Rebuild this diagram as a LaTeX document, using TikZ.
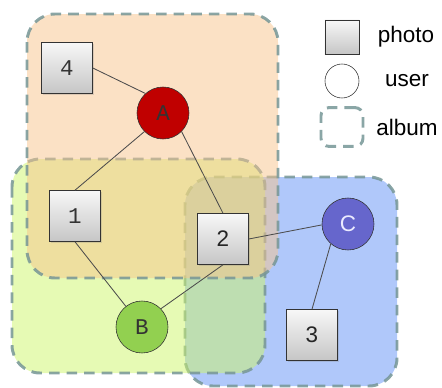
\documentclass[tikz,border=0pt]{standalone}
\usepackage{fontspec}
\setmainfont{Liberation Sans}
\newfontfamily\courfont{Liberation Mono}
\usetikzlibrary{shadows}

\definecolor{albumorange}{RGB}{248,196,140}
\definecolor{albumyellow}{RGB}{205,245,105}
\definecolor{albumblue}{RGB}{97,145,245}
\definecolor{albumedge}{RGB}{118,150,150}
\definecolor{userred}{RGB}{192,0,0}
\definecolor{usergreen}{RGB}{146,208,80}
\definecolor{userblue}{RGB}{102,102,204}

\begin{document}
\begin{tikzpicture}[
    x=0.025cm, y=-0.025cm,
    photo/.style={draw=black!80, rectangle, minimum size=1.275cm, inner sep=0pt,
      top color=gray!6, bottom color=gray!45,
      drop shadow={shadow xshift=1pt, shadow yshift=-1pt, opacity=0.25}},
    user/.style={draw=black!80, circle, minimum size=1.3cm, inner sep=0pt},
    album/.style={draw=albumedge, line width=2.1pt, dash pattern=on 7.5pt off 5pt,
      rounded corners=0.7cm, fill opacity=0.5, draw opacity=0.85},
    link/.style={draw=black!70, line width=0.6pt},
    num/.style={font=\fontsize{16}{18}\selectfont, text=black!85},
    cnum/.style={font=\courfont\fontsize{16}{18}\selectfont, text=black!80},
    lgd/.style={font=\fontsize{16}{19}\selectfont},
  ]
    \useasboundingbox (0,0) rectangle (442,388);

    % === Albums (blue under yellow under orange) ===
    \draw[album, fill=albumblue]   (185,177) rectangle (397,386);
    \draw[album, fill=albumyellow] (12,159)  rectangle (265,373);
    \draw[album, fill=albumorange] (27,14)   rectangle (278,278);

    % === Photos ===
    \node[photo, cnum] (n4) at (67,68)   {4};
    \node[photo, cnum] (n1) at (75,216)  {1};
    \node[photo, num]  (n2) at (223,239) {2};
    \node[photo, num]  (n3) at (312,335) {3};

    % === Users ===
    \node[user, cnum, fill=userred]   (A) at (163,113) {A};
    \node[user, cnum, fill=usergreen] (B) at (142,327) {B};
    \node[user, num, fill=userblue, text=blue!8] (C) at (348,224) {C};

    % links
    \draw[link] (n4.east)  -- (A.132);
    \draw[link] (A.225)    -- (n1.north);
    \draw[link] (A.315)    -- (n2.north);
    \draw[link] (n1.south) -- (B.128);
    \draw[link] (n2.south) -- (B.44);
    \draw[link] (n2.east)  -- (C.182);
    \draw[link] (C.229)    -- (n3.north);

    % === Legend ===
    \node[photo, minimum size=0.85cm, drop shadow={opacity=0}] (lphoto) at (342,37) {};
    \node[user, minimum size=0.85cm, fill=white] (luser) at (342,81) {};
    \node[album, rounded corners=0.2cm, fill=none, minimum width=1.05cm,
          minimum height=0.97cm] (lalbum) at (342,127) {};
    \node[lgd] (tphoto) at (406,37)  {photo};
    \node[lgd] (tuser)  at (407,81)  {user};
    \node[lgd] (talbum) at (407,127) {album};
\end{tikzpicture}
\end{document}
